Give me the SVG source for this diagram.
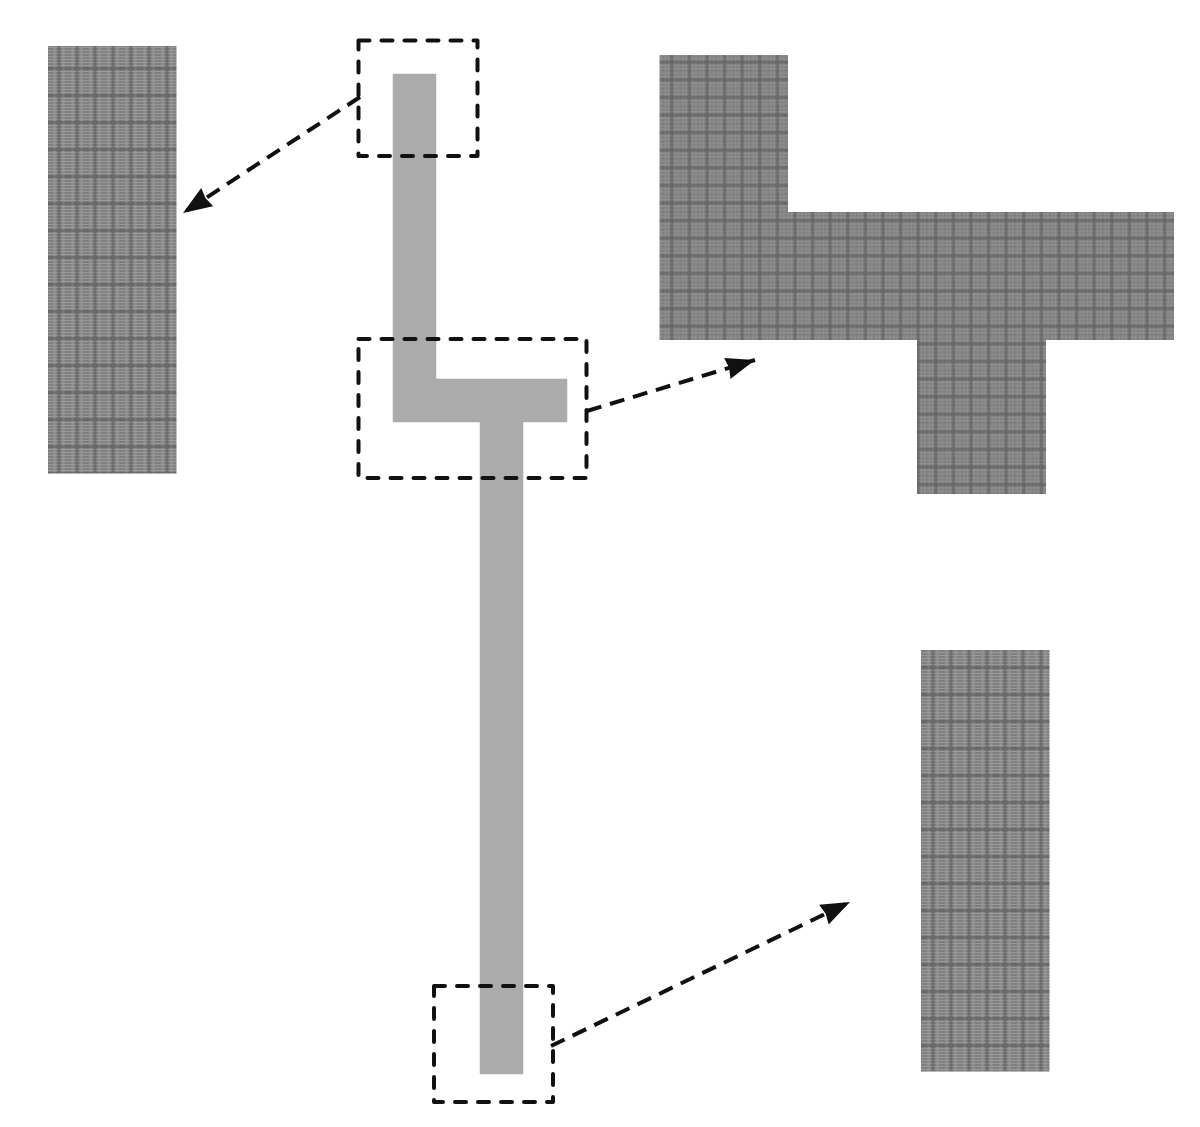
<svg xmlns="http://www.w3.org/2000/svg" width="1200" height="1127" viewBox="0 0 1200 1127">
<style>
.box{fill:none;stroke:#111;stroke-width:4;stroke-dasharray:11 12;stroke-linecap:round;stroke-linejoin:round}
.arrow{fill:none;stroke:#111;stroke-width:4;stroke-dasharray:15 9;marker-end:url(#head)}
.soft{filter:url(#soft)}
</style>
<defs>
<filter id="soft" x="-2%" y="-2%" width="104%" height="104%"><feGaussianBlur stdDeviation="0.7"/></filter>
<marker id="head" markerUnits="userSpaceOnUse" markerWidth="32" markerHeight="24" refX="29" refY="11" orient="auto"><path d="M0 0L29 11L0 22L2 11Z" fill="#111"/></marker>
<pattern id="meshL" patternUnits="userSpaceOnUse" width="18" height="27" x="50" y="55">
<rect width="18" height="27" fill="#7f7f7f"/>
<path d="M0 1.500H18M0 4.500H18M0 7.500H18M0 10.500H18M0 16.500H18M0 19.500H18M0 22.500H18M0 25.500H18" stroke="#9a9a9a" stroke-width="1"/>
<path d="M4.500 0V27M13.500 0V27" stroke="#949494" stroke-width="2"/>
<path d="M9 0V27M0 13.500H18" stroke="#4c4c4c" stroke-width="3" stroke-opacity=".42"/>
</pattern>
<pattern id="meshR" patternUnits="userSpaceOnUse" width="17.600" height="17.600" x="663" y="71">
<rect width="17.600" height="17.600" fill="#7c7c7c"/>
<path d="M0 2.200H17.600M0 5.500H17.600M0 12.100H17.600M0 15.400H17.600M2.200 0V17.600M5.500 0V17.600M12.100 0V17.600M15.400 0V17.600" stroke="#929292" stroke-width="1"/>
<path d="M8.800 0V17.600M0 8.800H17.600" stroke="#4c4c4c" stroke-width="2.800" stroke-opacity=".42"/>
</pattern>
<pattern id="meshB" patternUnits="userSpaceOnUse" width="18" height="27" x="924" y="654">
<rect width="18" height="27" fill="#7f7f7f"/>
<path d="M0 1.500H18M0 4.500H18M0 7.500H18M0 10.500H18M0 16.500H18M0 19.500H18M0 22.500H18M0 25.500H18" stroke="#9a9a9a" stroke-width="1"/>
<path d="M4.500 0V27M13.500 0V27" stroke="#949494" stroke-width="2"/>
<path d="M9 0V27M0 13.500H18" stroke="#4c4c4c" stroke-width="3" stroke-opacity=".42"/>
</pattern>
</defs>
<rect width="1200" height="1127" fill="#fff"/>
<g id="beam"><path d="M393 74H436V379H567V422H523V1074H480V422H393Z" fill="#aaabaa" stroke="#aaabaa" stroke-width=".5" stroke-linejoin="round"/></g>
<g id="mesh-top"><rect class="soft" x="48" y="46" width="128.500" height="427.500" fill="url(#meshL)"/></g>
<g id="mesh-middle"><path class="soft" d="M659.500 55H788V212H1174V340H1046V494H917V340H659.500Z" fill="url(#meshR)"/></g>
<g id="mesh-bottom"><rect class="soft" x="921" y="650" width="128.500" height="421.500" fill="url(#meshB)"/></g>
<g id="box-top"><rect class="box" x="358.500" y="40.500" width="119" height="115.500"/></g>
<g id="box-middle"><rect class="box" x="358.500" y="339" width="228" height="139"/></g>
<g id="box-bottom"><rect class="box" x="434" y="986" width="119" height="116"/></g>
<g id="connectors">
<path class="arrow" d="M360 97L183 213"/>
<path class="arrow" d="M587 411L755 360"/>
<path class="arrow" d="M551 1046L850 902"/>
</g>
</svg>
